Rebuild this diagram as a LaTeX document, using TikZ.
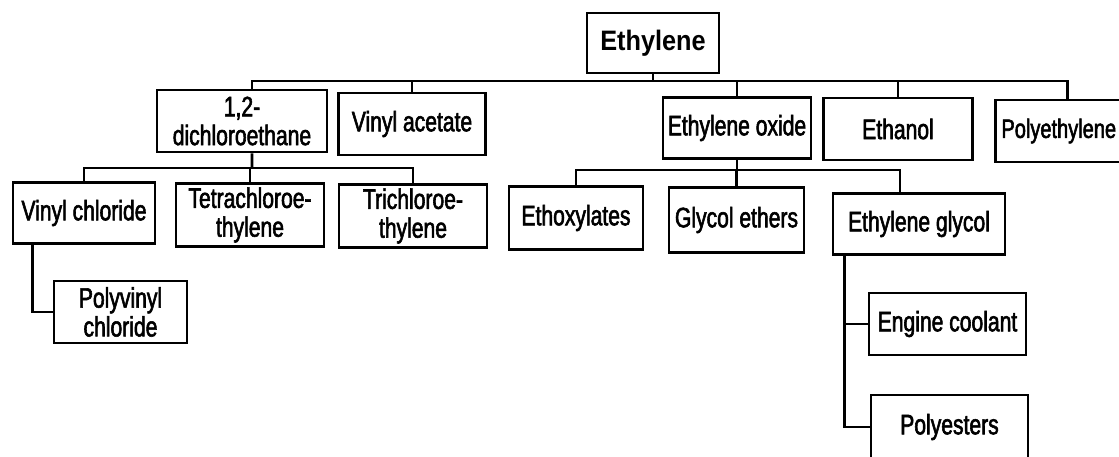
\documentclass[tikz,border=0pt]{standalone}
\usepackage{fontspec}
\setmainfont{Liberation Sans}[FakeStretch=0.75, FakeBold=2]
\newfontfamily\titlefont{Liberation Sans}[FakeStretch=0.9]
\usepackage{tikz}
\usetikzlibrary{positioning}

\begin{document}
\begin{tikzpicture}[x=0.025cm, y=-0.025cm, font=\fontsize{20}{20.5}\selectfont,
    chem/.style={draw, line width=2pt, align=center, inner sep=2pt},
    link/.style={line width=1.8pt}]
  \useasboundingbox (0,0) rectangle (1119,457);
  \clip (0,0) rectangle (1119,457);
  % root
  \node[chem, minimum width=3.3cm, minimum height=1.5cm, font=\titlefont\fontsize{20}{22}\selectfont\bfseries] (eth) at (653,43) {Ethylene};
  % first level
  \node[chem, minimum width=4.25cm, minimum height=1.55cm] (dce) at (242,121) {1,2-\\dichloroethane};
  \node[chem, minimum width=3.675cm, minimum height=1.55cm] (vac) at (412,124) {Vinyl acetate};
  \node[chem, minimum width=3.7cm, minimum height=1.525cm] (eox) at (737,128) {Ethylene oxide};
  \node[chem, minimum width=3.725cm, minimum height=1.55cm] (etoh) at (898,129) {Ethanol};
  \node[chem, anchor=west, minimum width=3.6cm, minimum height=1.55cm, text width=3.3cm, align=left, font=\fontsize{19}{20}\selectfont] (pe) at (994,131) {Polyethylene};
  % below 1,2-dichloroethane
  \node[chem, minimum width=3.55cm, minimum height=1.525cm] (vcl) at (84,213) {Vinyl chloride};
  \node[chem, minimum width=3.7cm, minimum height=1.575cm] (tce) at (250,215) {Tetrachloroe-\\thylene};
  \node[chem, minimum width=3.7cm, minimum height=1.575cm] (tri) at (413,216) {Trichloroe-\\thylene};
  \node[chem, minimum width=3.325cm, minimum height=1.55cm] (pvc) at (120.5,312) {Polyvinyl\\chloride};
  % below ethylene oxide
  \node[chem, minimum width=3.35cm, minimum height=1.575cm] (etx) at (576,218) {Ethoxylates};
  \node[chem, minimum width=3.375cm, minimum height=1.625cm] (gle) at (736.5,220) {Glycol ethers};
  \node[chem, minimum width=4.3cm, minimum height=1.525cm] (egl) at (919,224) {Ethylene glycol};
  \node[chem, minimum width=3.925cm, minimum height=1.55cm] (eco) at (947.5,324) {Engine coolant};
  \node[chem, minimum width=3.925cm, minimum height=1.6cm] (pes) at (949.5,427) {Polyesters};
  % connectors
  \coordinate (top) at (653,81);
  \draw[link] (eth) -- (top);
  \draw[link] (top) -| ([xshift=0.25cm]dce.north);
  \foreach \n in {vac,eox,etoh,pe}
    \draw[link] (top) -| (\n.north);
  \coordinate (dcebus) at (252,168);
  \draw[link] ([xshift=0.25cm]dce.south) -- (dcebus);
  \foreach \n in {vcl,tce,tri}
    \draw[link] (dcebus) -| (\n.north);
  \coordinate (eoxbus) at (737,170);
  \draw[link] (eox) -- (eoxbus);
  \draw[link] (eoxbus) -| (etx.north);
  \draw[link] (eoxbus) -| (gle.north);
  \draw[link] (eoxbus) -| ([xshift=-0.475cm]egl.north);
  \draw[link] ([xshift=0.525cm]vcl.south west) |- (pvc.west);
  \draw[link] ([xshift=0.325cm]egl.south west) |- (eco.west);
  \draw[link] ([xshift=0.325cm]egl.south west) |- (pes.west);
\end{tikzpicture}
\end{document}
